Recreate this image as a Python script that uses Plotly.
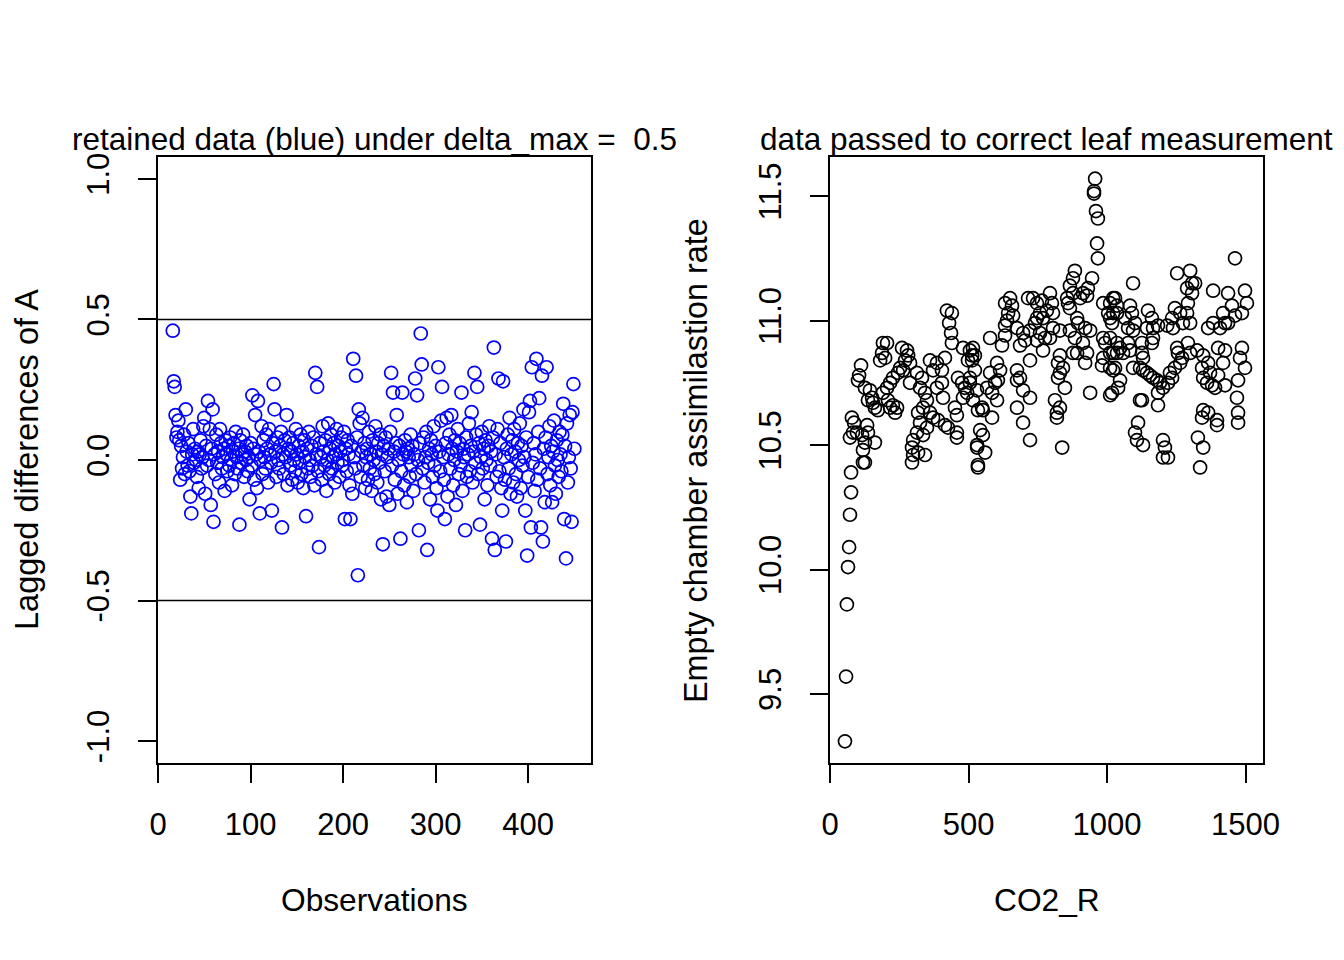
import plotly.graph_objs as go

# --- left panel: lagged differences of A (one value per observation, starting at 16)
lag_diff = [
    0.46, 0.28, 0.26, 0.16, 0.08, 0.10, 0.14, 0.07, -0.07, 0.05,
    -0.03, 0.01, 0.09, -0.05, 0.18, 0.03, -0.02, 0.06, -0.04, -0.13,
    -0.19, 0.02, 0.11, -0.01, 0.04, 0.00, -0.06, 0.03, -0.10, 0.02,
    0.07, -0.03, 0.01, 0.12, 0.15, -0.12, 0.05, -0.02, 0.21, 0.00,
    0.11, -0.16, 0.04, 0.18, -0.22, 0.02, -0.05, 0.09, -0.01, 0.03,
    -0.08, 0.11, 0.06, -0.03, 0.01, 0.04, -0.11, 0.07, 0.02, -0.04,
    0.05, -0.02, 0.08, 0.00, -0.09, 0.03, 0.06, -0.05, 0.10, 0.01,
    -0.03, 0.04, -0.23, 0.07, -0.01, 0.02, 0.09, -0.06, 0.03, 0.00,
    0.05, -0.04, 0.01, -0.14, 0.06, -0.02, 0.23, 0.04, -0.07, 0.16,
    0.02, -0.10, 0.21, 0.03, -0.19, 0.00, 0.12, -0.05, 0.07, 0.01,
    -0.03, 0.09, 0.04, -0.08, 0.11, 0.02, -0.01, -0.18, 0.06, 0.27,
    0.18, 0.03, -0.06, 0.08, 0.00, -0.03, 0.05, 0.10, -0.24, 0.02,
    -0.05, 0.07, 0.01, 0.16, -0.09, 0.04, 0.08, -0.02, 0.03, -0.07,
    0.06, 0.00, -0.04, 0.11, 0.02, -0.08, 0.05, -0.01, 0.09, -0.05,
    0.03, -0.10, 0.07, 0.01, -0.20, 0.04, -0.03, 0.10, 0.00, -0.06,
    0.05, -0.02, 0.08, -0.09, 0.31, 0.02, 0.26, -0.04, -0.31, 0.06,
    0.01, -0.07, 0.12, 0.03, -0.02, 0.07, -0.11, 0.00, 0.13, -0.05,
    0.04, 0.09, -0.03, 0.01, 0.06, -0.08, 0.02, 0.11, -0.01, 0.05,
    -0.06, 0.03, 0.08, -0.02, 0.00, 0.10, -0.21, 0.04, -0.04, 0.07,
    0.02, -0.09, -0.21, 0.05, -0.12, 0.36, 0.01, -0.03, 0.30, 0.08,
    -0.41, 0.18, 0.13, -0.06, 0.03, 0.15, -0.02, 0.06, -0.10, 0.01,
    0.04, -0.07, 0.10, -0.03, 0.02, -0.11, 0.07, 0.00, -0.05, 0.12,
    0.03, -0.08, 0.06, -0.01, 0.09, -0.14, 0.02, -0.30, 0.05, -0.04,
    0.08, -0.13, 0.01, 0.04, -0.16, 0.10, 0.31, -0.02, 0.24, 0.03,
    -0.07, 0.06, 0.16, -0.12, 0.00, 0.05, -0.28, -0.04, 0.24, 0.02,
    -0.09, 0.07, 0.03, -0.15, 0.04, 0.01, -0.06, 0.09, -0.02, 0.05,
    -0.11, 0.02, 0.29, -0.05, 0.23, 0.00, -0.25, 0.06, 0.45, 0.34,
    -0.03, 0.08, -0.08, 0.01, 0.10, -0.32, -0.01, 0.04, -0.14, 0.07,
    0.02, -0.06, 0.12, -0.02, 0.05, -0.10, -0.18, 0.33, 0.03, -0.04,
    0.14, 0.26, 0.01, -0.07, -0.21, 0.06, 0.15, -0.13, 0.02, 0.09,
    -0.03, 0.16, 0.04, -0.09, 0.00, 0.07, -0.16, 0.03, 0.11, -0.05,
    0.06, -0.02, 0.24, -0.11, 0.04, 0.01, -0.25, 0.08, -0.06, 0.02,
    0.13, -0.04, 0.05, 0.17, -0.08, 0.03, 0.31, -0.01, 0.09, 0.26,
    -0.05, 0.06, -0.23, 0.01, 0.10, -0.03, 0.04, -0.14, 0.07, 0.00,
    -0.09, 0.05, 0.12, -0.02, 0.03, -0.28, 0.08, 0.40, -0.32, 0.02,
    -0.06, 0.11, 0.29, -0.04, 0.06, -0.10, -0.18, 0.28, 0.01, -0.07,
    -0.29, 0.04, 0.09, -0.03, 0.15, -0.12, 0.02, 0.07, -0.08, 0.11,
    0.03, -0.05, -0.13, 0.06, 0.00, 0.13, -0.10, 0.05, -0.02, 0.18,
    0.01, -0.18, 0.08, -0.34, -0.06, 0.17, 0.21, -0.24, 0.33, -0.01,
    0.06, -0.11, 0.02, 0.36, -0.07, 0.10, 0.22, -0.03, -0.24, 0.30,
    -0.29, 0.04, -0.15, 0.08, 0.33, -0.05, 0.01, 0.12, -0.09, 0.05,
    -0.15, 0.03, 0.14, -0.02, -0.12, 0.07, 0.00, -0.06, 0.10, 0.02,
    -0.04, 0.09, 0.20, -0.21, 0.05, -0.35, 0.13, -0.08, 0.01, 0.16,
    -0.03, -0.22, 0.17, 0.27, 0.04,
]
obs = list(range(16, 16 + len(lag_diff)))
delta_max = 0.5

# --- right panel: empty chamber assimilation vs CO2_R
co2_r = [
    # ramp at the start
    54, 58, 61, 65, 69, 72, 76, 76, 79, 87, 83, 72, 97, 116, 134, 137, 126, 162, 119, 119, 126,
    # 100 - 480
    112, 105, 101, 126, 144, 152, 137, 155, 162, 173, 191, 206, 188, 199, 181, 260, 278, 282, 271, 289,
    253, 264, 217, 227, 245, 206, 191, 209, 227, 235, 217, 242, 289, 314, 332, 361, 386, 415, 404, 372,
    325, 343, 350, 336, 318, 361, 372, 386, 404, 408, 390, 415, 426, 458, 458, 451, 458, 314, 300, 296,
    300, 296, 318, 336, 343, 325, 350, 480, 505, 513, 498, 477, 487, 495, 480, 505, 462, 531, 534, 422,
    440, 430, 437, 440,
    # 500 - 1000
    957, 953, 953, 960, 967, 964, 967, 884, 877, 866, 946, 931, 913, 877, 856, 859, 903, 928, 650, 632,
    657, 643, 661, 639, 632, 675, 715, 733, 747, 765, 794, 801, 783, 758, 747, 769, 805, 740, 758, 722,
    697, 704, 747, 776, 794, 578, 621, 632, 686, 769, 805, 830, 866, 892, 895, 921, 939, 866, 884, 913,
    928, 892, 986, 1011, 1022, 1004, 1036, 1018, 986, 993, 1011, 986, 982, 1022, 1036, 516, 523, 513, 523, 505,
    603, 614, 606, 596, 578, 567, 531, 516, 585, 603, 552, 585, 549, 534, 675, 686, 675, 697, 722, 675,
    697, 722, 722, 830, 823, 841, 830, 823, 848, 812, 830, 819, 819, 838, 877, 921, 939, 1011, 542, 552,
    531, 560, 534,
    # 1000 - 1510
    1462, 1253, 1300, 1307, 1318, 1289, 1307, 1292, 1094, 1383, 1437, 1498, 1505, 1487, 1451, 1462, 1419, 1426, 1437, 1408,
    1383, 1365, 1029, 1036, 1022, 1011, 1083, 1090, 1065, 1101, 1076, 1094, 1148, 1162, 1166, 1144, 1184, 1217, 1238, 1235,
    1245, 1264, 1289, 1274, 1300, 1011, 1036, 1047, 1022, 1058, 1076, 1083, 1126, 1126, 1130, 1166, 1162, 1011, 1029, 1047,
    1040, 1018, 1094, 1119, 1130, 1144, 1155, 1166, 1181, 1191, 1184, 1202, 1220, 1235, 1227, 1245, 1264, 1271, 1253, 1256,
    1292, 1300, 1119, 1126, 1184, 1325, 1347, 1365, 1372, 1343, 1347, 1361, 1379, 1390, 1426, 1401, 1419, 1401, 1426, 1487,
    1480, 1498, 1473, 1469, 1347, 1343, 1365, 1397, 1397, 1473, 1473, 1112, 1101, 1108, 1130, 1202, 1209, 1202, 1220, 1328,
    1347, 1336,
]
a_empty = [
    9.31, 9.57, 9.86, 10.01, 10.09, 10.22, 10.31, 10.39, 10.61, 10.59, 10.55, 10.53, 10.55, 10.54, 10.58, 10.55, 10.51, 10.51, 10.48, 10.43, 10.43,
    10.82, 10.78, 10.76, 10.73, 10.72, 10.69, 10.68, 10.67, 10.65, 10.64, 10.91, 10.91, 10.87, 10.85, 10.84, 10.89, 10.88, 10.86, 10.84, 10.83,
    10.81, 10.80, 10.75, 10.77, 10.79, 10.73, 10.71, 10.68, 10.66, 10.63, 10.65, 10.65, 10.75, 10.79, 10.77, 10.84, 10.83, 10.85, 10.80, 10.80,
    10.73, 10.71, 10.68, 10.65, 10.63, 10.63, 10.61, 10.73, 10.75, 10.69, 10.60, 10.58, 10.57, 10.55, 10.53, 10.65, 10.62, 10.55, 10.52, 10.49,
    10.46, 10.43, 10.47, 10.54, 10.46, 10.59, 10.57, 10.89, 10.88, 10.86, 10.84, 10.75, 10.73, 10.71, 10.69, 10.75, 10.77, 10.49, 10.41, 11.04,
    11.03, 10.99, 10.95, 10.91,
    11.57, 11.52, 11.51, 11.44, 11.41, 11.31, 11.25, 11.20, 11.17, 11.14, 11.17, 11.13, 11.11, 11.11, 11.09, 11.07, 11.09, 11.10, 11.09, 11.07,
    11.06, 11.03, 11.02, 11.00, 10.98, 10.97, 11.09, 11.09, 11.07, 11.08, 11.11, 11.07, 11.04, 11.03, 11.01, 11.01, 11.03, 10.99, 10.95, 10.96,
    10.95, 10.92, 10.92, 10.93, 10.93, 10.93, 10.90, 10.94, 10.90, 10.88, 10.97, 10.96, 11.05, 11.01, 10.99, 10.97, 10.96, 10.96, 10.93, 10.91,
    10.87, 10.87, 11.07, 11.07, 11.09, 11.03, 11.03, 10.99, 10.93, 10.91, 10.87, 10.85, 10.82, 10.80, 10.87, 10.89, 10.86, 10.84, 10.80, 10.77,
    10.83, 10.80, 10.76, 10.75, 10.79, 10.73, 10.72, 10.68, 10.71, 10.68, 10.64, 10.61, 10.65, 10.64, 10.80, 10.77, 10.76, 10.72, 10.69, 10.65,
    10.59, 10.52, 10.84, 10.86, 10.83, 10.81, 10.79, 10.77, 10.73, 10.68, 10.65, 10.63, 10.61, 10.49, 10.87, 10.83, 10.71, 10.70, 10.56, 10.54,
    10.50, 10.47, 10.42,
    11.25, 11.19, 11.20, 11.15, 11.15, 11.13, 11.11, 11.07, 11.15, 11.12, 11.11, 11.12, 11.07, 11.03, 11.06, 11.02, 11.03, 10.99, 10.99, 10.97,
    10.99, 10.97, 11.09, 11.06, 11.03, 11.01, 11.06, 11.03, 11.01, 10.99, 10.97, 10.96, 11.04, 11.01, 10.97, 10.97, 10.98, 10.98, 10.97, 11.01,
    11.05, 11.03, 11.03, 10.99, 10.99, 10.93, 10.91, 10.89, 10.87, 10.87, 10.91, 10.88, 10.91, 10.87, 10.85, 10.93, 10.91, 10.81, 10.81, 10.76,
    10.73, 10.71, 10.81, 10.81, 10.80, 10.79, 10.78, 10.77, 10.76, 10.75, 10.71, 10.73, 10.75, 10.77, 10.79, 10.81, 10.83, 10.85, 10.89, 10.87,
    10.91, 10.87, 10.68, 10.68, 10.66, 10.88, 10.86, 10.83, 10.79, 10.81, 10.77, 10.75, 10.74, 10.73, 10.74, 10.78, 10.83, 10.89, 10.88, 10.89,
    10.85, 10.81, 10.76, 10.69, 10.64, 10.61, 10.63, 10.60, 10.58, 10.63, 10.59, 10.59, 10.55, 10.52, 10.50, 10.52, 10.49, 10.45, 10.45, 10.53,
    10.49, 10.41,
]

left_xticks = [0, 100, 200, 300, 400]
left_yticks = [-1.0, -0.5, 0.0, 0.5, 1.0]
left_ytext = ["-1.0", "-0.5", "0.0", "0.5", "1.0"]
right_xticks = [0, 500, 1000, 1500]
right_yticks = [9.5, 10.0, 10.5, 11.0, 11.5]
right_ytext = ["9.5", "10.0", "10.5", "11.0", "11.5"]

FONT = "Liberation Sans, Arial, sans-serif"
PAGE_OFF = 8  # the page body puts the figure 8px in from the top-left corner
W, H = 1344 - PAGE_OFF, 960 - PAGE_OFF


def px_x(p):
    return (p - PAGE_OFF) / W


def px_y(p):
    return 1 - (p - PAGE_OFF) / H


fig = go.Figure()
fig.add_trace(go.Scatter(
    x=obs, y=lag_diff, mode="markers", xaxis="x", yaxis="y",
    marker=dict(symbol="circle-open", size=13, color="#0000ff", line=dict(width=1.7)),
))
fig.add_trace(go.Scatter(
    x=co2_r, y=a_empty, mode="markers", xaxis="x2", yaxis="y2",
    marker=dict(symbol="circle-open", size=13, color="#000000", line=dict(width=1.7)),
))

axis_common = dict(
    showline=True, mirror=True, linecolor="black", linewidth=1.5,
    ticks="outside", ticklen=18, tickwidth=1.5, tickcolor="black",
    showgrid=False, zeroline=False, automargin=False,
    tickfont=dict(family=FONT, size=31, color="black"),
)

fig.update_layout(
    width=W, height=H,
    margin=dict(l=0, r=0, t=0, b=0, autoexpand=False),
    paper_bgcolor="white", plot_bgcolor="white",
    showlegend=False,
    xaxis=dict(domain=[px_x(158), px_x(591)], range=[0, 468], anchor="y",
               tickvals=left_xticks, ticklabelstandoff=15, **axis_common),
    yaxis=dict(domain=[px_y(763), px_y(157)], range=[-1.078, 1.078], anchor="x",
               tickvals=left_yticks, ticktext=left_ytext, tickangle=-90,
               ticklabelstandoff=17, **axis_common),
    xaxis2=dict(domain=[px_x(830), px_x(1263)], range=[0, 1563], anchor="y2",
                tickvals=right_xticks, ticklabelstandoff=15, **axis_common),
    yaxis2=dict(domain=[px_y(763), px_y(157)], range=[9.223, 11.657], anchor="x2",
                tickvals=right_yticks, ticktext=right_ytext, tickangle=-90,
                ticklabelstandoff=17, **axis_common),
)

# delta_max limits
for lim in (delta_max, -delta_max):
    fig.add_shape(type="line", xref="x domain", yref="y", x0=0, x1=1, y0=lim, y1=lim,
                  line=dict(color="black", width=1.5))

texts = [
    ("retained data (blue) under delta_max =  0.5", 374, 139, 0, 31.5),
    ("data passed to correct leaf measurement", 1046, 139, 0, 31.5),
    ("Observations", 374.5, 900, 0, 31.7),
    ("CO2_R", 1046.5, 900, 0, 31.7),
    ("Lagged differences of A", 27, 460, -90, 32.5),
    ("Empty chamber assimilastion rate", 696, 460, -90, 32.3),
]
for txt, x, y, ang, size in texts:
    fig.add_annotation(text=txt, xref="paper", yref="paper", x=px_x(x), y=px_y(y),
                       xanchor="center", yanchor="middle", showarrow=False, textangle=ang,
                       borderpad=0, font=dict(family=FONT, size=size, color="black"))

fig.write_html("out.html")
